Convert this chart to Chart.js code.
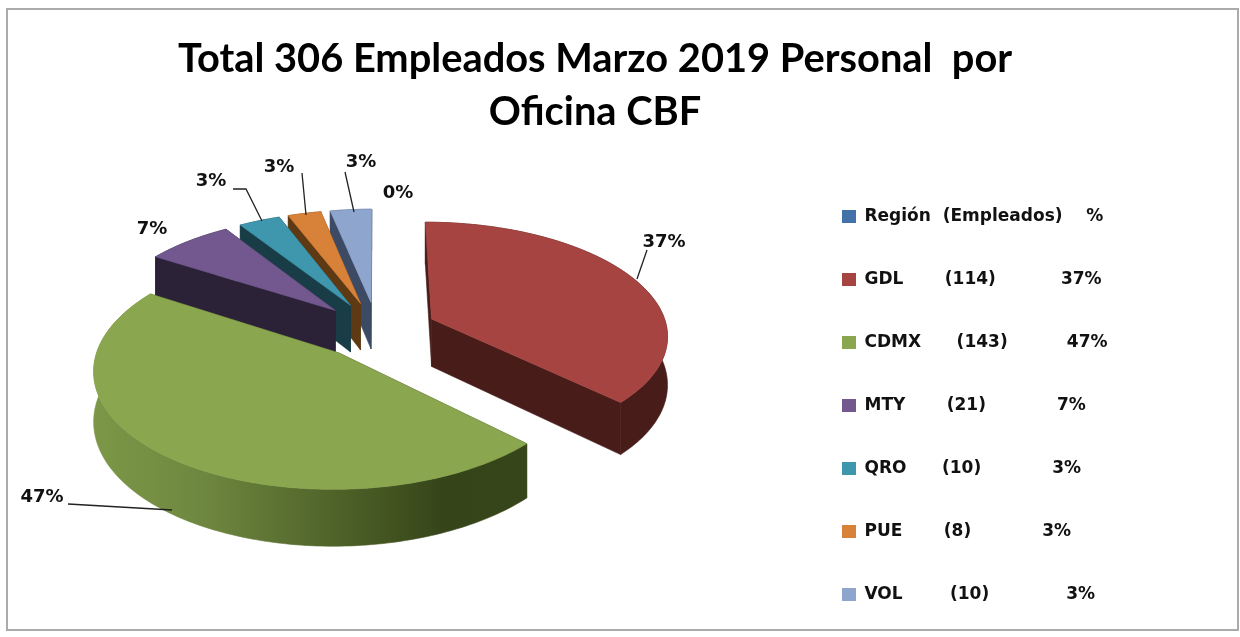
<!DOCTYPE html>
<html><head><meta charset="utf-8">
<style>html,body{margin:0;padding:0;background:#fff}canvas{display:block;filter:blur(0.45px)}</style>
<script src="https://cdn.jsdelivr.net/npm/chart.js@4"></script>
</head><body><canvas id="c" width="1240" height="637"></canvas>
<script>
const categories=['Región','GDL','CDMX','MTY','QRO','PUE','VOL'];
const employees=[0,114,143,21,10,8,10];
const legendLabels=[
 'Región  (Empleados)    %',
 'GDL       (114)           37%',
 'CDMX      (143)          47%',
 'MTY       (21)            7%',
 'QRO      (10)            3%',
 'PUE       (8)            3%',
 'VOL        (10)             3%'];
const titleLines=['Total 306 Empleados Marzo 2019 Personal  por','Oficina CBF'];
const topColors=['#4272A8','#A64442','#8AA64E','#72588F','#3F97AE','#D88139','#8EA5CE'];
const wallColors=['#1f3650','#471C19','#3A4A1C','#2C2238','#193D47','#5E3A14','#3C4A63'];
const view={cx:377,cy:330,R:236,tilt:0.475,k:0.13,explode:60,depth:48};
const legendBox={left:796,top:162};
const labelStyle=[
 {x:398,y:193},
 {x:664,y:242,line:[[637,279],[647,250]]},
 {x:42,y:497,line:[[172,510],[68,504]]},
 {x:152,y:229},
 {x:211,y:181,line:[[262,221],[246,189],[233,189]]},
 {x:279,y:167,line:[[306,215],[302,173]]},
 {x:361,y:162,line:[[354,212],[345,172]]}];
const FONT='"DejaVu Sans",sans-serif';

function project(X,Y,Z){
  const s=1/(1+view.k*Y/view.R);
  return [view.cx+X*s, view.cy-Y*view.tilt*s-Z*s];
}
function arcPts(a0,a1,ox,oy,z){
  const n=Math.max(2,Math.ceil(Math.abs(a1-a0)/0.02)),pts=[];
  for(let i=0;i<=n;i++){
    const a=a0+(a1-a0)*i/n;
    pts.push(project(ox+view.R*Math.cos(a),oy-view.R*Math.sin(a),z));
  }
  return pts;
}
function poly(ctx,pts,fill){
  ctx.beginPath();pts.forEach((p,i)=>i?ctx.lineTo(p[0],p[1]):ctx.moveTo(p[0],p[1]));
  ctx.closePath();ctx.fillStyle=fill;ctx.fill();ctx.strokeStyle=fill;ctx.lineWidth=0.6;ctx.stroke();
}
const pie3d={
  id:'pie3d',
  afterLayout(chart){
    const l=chart.legend,w=l.width,h=l.height;
    l.left=legendBox.left;l.right=l.left+w;l.top=legendBox.top;l.bottom=l.top+h;
  },
  beforeDraw(chart){
    const c=chart.ctx;c.save();c.fillStyle='#fff';c.fillRect(0,0,1240,637);
    c.strokeStyle='#ababab';c.lineWidth=2;c.strokeRect(7,9,1231,621);c.restore();
  },
  beforeDatasetsDraw(chart){
    const ctx=chart.ctx,arcs=chart.getDatasetMeta(0).data;
    const order=arcs.map((el,i)=>({el,i,m:(el.startAngle+el.endAngle)/2}))
      .filter(o=>employees[o.i]>0)
      .sort((a,b)=>Math.sin(a.m)-Math.sin(b.m));
    ctx.save();
    for(const {el,i,m} of order){
      const ox=view.explode*Math.cos(m),oy=-view.explode*Math.sin(m),a0=el.startAngle,a1=el.endAngle;
      const apexT=project(ox,oy,0),apexB=project(ox,oy,-view.depth);
      const top=arcPts(a0,a1,ox,oy,0),bot=arcPts(a0,a1,ox,oy,-view.depth);
      poly(ctx,[apexT,top[0],bot[0],apexB],wallColors[i]);
      poly(ctx,[apexT,top[top.length-1],bot[bot.length-1],apexB],wallColors[i]);
      let wall=wallColors[i];
      if(categories[i]==='CDMX'){
        const g=ctx.createLinearGradient(95,0,530,0);
        g.addColorStop(0,'#7C9747');g.addColorStop(0.25,'#6E873F');g.addColorStop(0.55,'#4F6329');
        g.addColorStop(0.8,'#364519');g.addColorStop(1,'#36451A');
        wall=g;
      }
      poly(ctx,top.concat(bot.slice().reverse()),wall);
      poly(ctx,[apexT].concat(top),topColors[i]);
    }
    ctx.restore();
    return false;
  },
  afterDraw(chart){
    const ctx=chart.ctx,total=employees.reduce((a,b)=>a+b,0);
    ctx.save();
    ctx.font='700 18px '+FONT;ctx.textAlign='center';ctx.textBaseline='middle';
    employees.forEach((v,i)=>{
      const s=labelStyle[i];
      ctx.fillStyle='#111';
      ctx.fillText(Math.round(v/total*100)+'%',s.x,s.y);
      if(s.line){
        ctx.beginPath();s.line.forEach((p,j)=>j?ctx.lineTo(p[0],p[1]):ctx.moveTo(p[0],p[1]));
        ctx.strokeStyle='#222';ctx.lineWidth=1.3;ctx.stroke();
      }
    });
    ctx.restore();
  }
};
new Chart(document.getElementById('c'),{
  type:'pie',
  data:{labels:legendLabels,datasets:[{data:employees,backgroundColor:topColors,borderWidth:0}]},
  plugins:[pie3d],
  options:{
    responsive:false,animation:false,
    layout:{padding:{left:7,right:57,top:32,bottom:36}},
    plugins:{
      tooltip:{enabled:false},
      title:{display:true,text:titleLines,color:'#000',font:{family:'Lato,'+FONT,size:39.8,weight:'700',lineHeight:1.35},padding:{top:0,bottom:8}},
      legend:{position:'right',align:'start',labels:{color:'#111',boxWidth:14,boxHeight:13,padding:46,font:{family:FONT,size:17,weight:'700'}}}
    }
  }
});
</script></body></html>
